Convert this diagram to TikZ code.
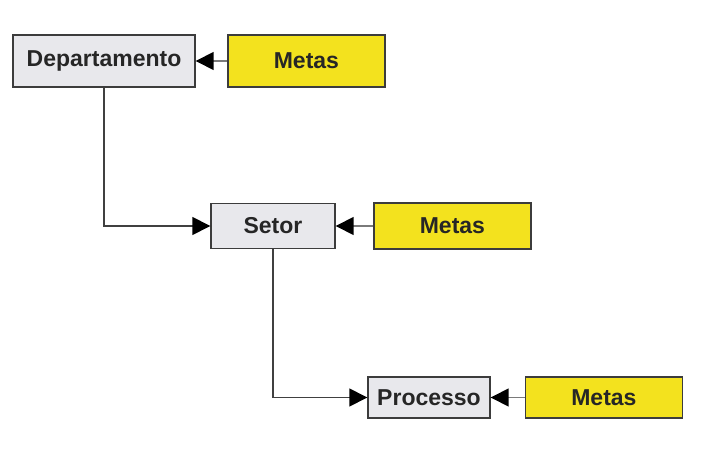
\documentclass[tikz,border=0pt]{standalone}
\usepackage{fontspec}
\setmainfont{Liberation Sans}
\usetikzlibrary{arrows.meta, positioning}
\definecolor{boxgray}{HTML}{E8E8EC}
\definecolor{goalyellow}{HTML}{F3E21E}
\definecolor{edge}{HTML}{3C3C3C}
\definecolor{wire}{HTML}{7A7A7A}

\begin{document}
\begin{tikzpicture}[x=1pt, y=-1pt,
    every node/.style={font=\fontsize{23}{27}\selectfont\bfseries, text=black!85},
    unitbox/.style={draw=edge, line width=1.4pt, fill=boxgray, inner sep=0pt},
    goalbox/.style={draw=edge, line width=1.4pt, fill=goalyellow, inner sep=0pt, minimum width=157pt},
    feed/.style={-{Triangle[length=18pt, width=18pt, black]}, line width=1.5pt, color=wire},
    link/.style={-{Triangle[length=18pt, width=18pt, black]}, line width=1.5pt, color=black!75}]
    \path[use as bounding box] (0,0) rectangle (720,470);
    \node[unitbox, minimum width=182pt, minimum height=52pt] (dep) at (104,61) {Departamento};
    \node[goalbox, minimum height=52pt, right=31.5pt of dep] (goalA) {Metas};
    \node[unitbox, minimum width=124pt, minimum height=45pt] (setor) at (273,226) {Setor};
    \node[goalbox, minimum height=46pt, right=37.5pt of setor] (goalB) {Metas};
    \node[unitbox, minimum width=122pt, minimum height=41pt] (proc) at (429,397.5) {Processo};
    \node[goalbox, minimum height=41pt, right=34pt of proc] (goalC) {Metas};
    \draw[feed] (goalA) -- (dep);
    \draw[feed] (goalB) -- (setor);
    \draw[feed] (goalC) -- (proc);
    \draw[link] (dep) |- (setor);
    \draw[link] (setor) |- (proc);
\end{tikzpicture}
\end{document}
